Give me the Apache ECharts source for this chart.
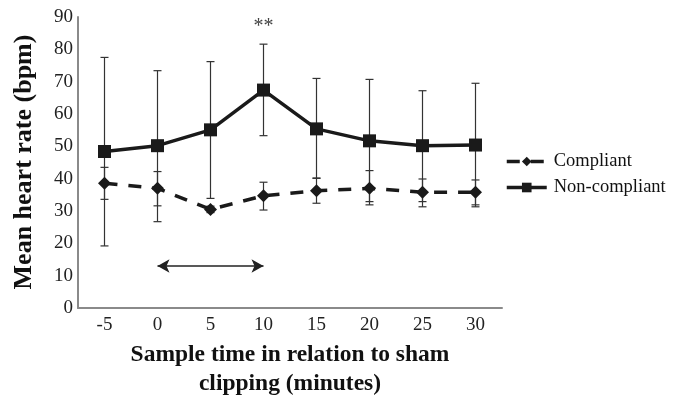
<!DOCTYPE html>
<html>
<head>
<meta charset="utf-8">
<script src="https://cdn.jsdelivr.net/npm/echarts@6/dist/echarts.min.js"></script>
<style>html,body{margin:0;padding:0;background:#fff}#c{width:678px;height:397px}</style>
</head>
<body>
<div id="c"></div>
<script>
var categories = ['-5','0','5','10','15','20','25','30'];
var compliantMean = [38.6, 37.0, 30.5, 34.7, 36.3, 37.0, 35.8, 35.8];
var compliantLow  = [33.6, 31.6, 29.5, 30.3, 32.4, 31.9, 31.3, 31.9];
var compliantHigh = [43.5, 42.2, 31.5, 38.9, 40.2, 42.5, 39.9, 39.6];
var noncompMean = [48.4, 50.2, 55.1, 67.4, 55.4, 51.7, 50.2, 50.4];
var noncompLow  = [19.2, 26.7, 33.9, 53.3, 40.1, 32.9, 32.9, 31.3];
var noncompHigh = [77.5, 73.4, 76.2, 81.6, 71.0, 70.7, 67.2, 69.5];
var sigCategory = '10';
var sigValue = 87;
var sigText = '**';
var arrowFrom = '0';
var arrowTo = '10';
var arrowValue = 13;

var FONT = 'Liberation Serif';

function errData(low, high) {
  return categories.map(function (c, i) { return [i, low[i], high[i]]; });
}
function errRender(params, api) {
  var x = api.value(0);
  var lo = api.coord([x, api.value(1)]);
  var hi = api.coord([x, api.value(2)]);
  var w = 4;
  var st = { stroke: '#333', lineWidth: 1.2 };
  return {
    type: 'group',
    children: [
      { type: 'line', shape: { x1: lo[0], y1: lo[1], x2: hi[0], y2: hi[1] }, style: st },
      { type: 'line', shape: { x1: lo[0] - w, y1: lo[1], x2: lo[0] + w, y2: lo[1] }, style: st },
      { type: 'line', shape: { x1: hi[0] - w, y1: hi[1], x2: hi[0] + w, y2: hi[1] }, style: st }
    ]
  };
}

var chart = echarts.init(document.getElementById('c'));
chart.setOption({
  animation: false,
  textStyle: { fontFamily: FONT },
  grid: { left: 78, right: 176, top: 17, bottom: 89, containLabel: false, outerBoundsMode: 'none' },
  legend: {
    orient: 'vertical',
    left: 505,
    top: 152,
    padding: 0,
    itemWidth: 40,
    itemHeight: 12,
    itemGap: 7,
    lineStyle: { width: 3.5 },
    textStyle: { fontFamily: FONT, fontSize: 18.5, color: '#111', padding: [0, 0, 0, 2] },
    data: ['Compliant', 'Non-compliant']
  },
  xAxis: {
    type: 'category',
    data: categories,
    boundaryGap: true,
    axisLine: { lineStyle: { color: '#8a8a8a', width: 2 } },
    axisTick: { show: false },
    axisLabel: { fontFamily: FONT, fontSize: 19, color: '#222', margin: 8 },
    name: 'Sample time in relation to sham\nclipping (minutes)',
    nameLocation: 'middle',
    nameGap: 32,
    nameTextStyle: { fontFamily: FONT, fontSize: 23.5, fontWeight: 'bold', color: '#111', lineHeight: 29 }
  },
  yAxis: {
    type: 'value',
    min: 0, max: 90, interval: 10,
    axisLine: { show: true, lineStyle: { color: '#8a8a8a', width: 2 } },
    axisTick: { show: false },
    splitLine: { show: false },
    axisLabel: { fontFamily: FONT, fontSize: 19, color: '#222', margin: 5 }
  },
  graphic: [{
    type: 'text',
    x: 24, y: 162,
    rotation: Math.PI / 2,
    style: {
      text: 'Mean heart rate (bpm)',
      fontFamily: FONT, fontSize: 26, fontWeight: 'bold', fill: '#111',
      align: 'center', verticalAlign: 'middle'
    }
  }],
  series: [
    {
      type: 'custom', name: 'ncErr', z: 2, silent: true,
      renderItem: errRender, data: errData(noncompLow, noncompHigh),
      encode: { x: 0, y: [1, 2] }
    },
    {
      type: 'custom', name: 'cErr', z: 2, silent: true,
      renderItem: errRender, data: errData(compliantLow, compliantHigh),
      encode: { x: 0, y: [1, 2] }
    },
    {
      name: 'Compliant', type: 'line', z: 3,
      data: compliantMean,
      symbol: 'diamond', symbolSize: 13,
      itemStyle: { color: '#1a1a1a' },
      lineStyle: { color: '#1a1a1a', width: 3.5, type: [13, 11] },
      markLine: {
        silent: true,
        symbol: ['arrow', 'arrow'],
        symbolSize: [10, 12],
        label: { show: false },
        lineStyle: { color: '#222', width: 1.5, type: 'solid' },
        data: [[{ coord: [arrowFrom, arrowValue] }, { coord: [arrowTo, arrowValue] }]]
      }
    },
    {
      name: 'Non-compliant', type: 'line', z: 4,
      data: noncompMean,
      symbol: 'rect', symbolSize: 13,
      itemStyle: { color: '#1a1a1a' },
      lineStyle: { color: '#1a1a1a', width: 3.5 },
      markPoint: {
        silent: true,
        symbol: 'circle', symbolSize: 0,
        label: { show: true, formatter: sigText, fontFamily: FONT, fontSize: 20, color: '#444' },
        data: [{ coord: [sigCategory, sigValue] }]
      }
    }
  ]
});
</script>
</body>
</html>
